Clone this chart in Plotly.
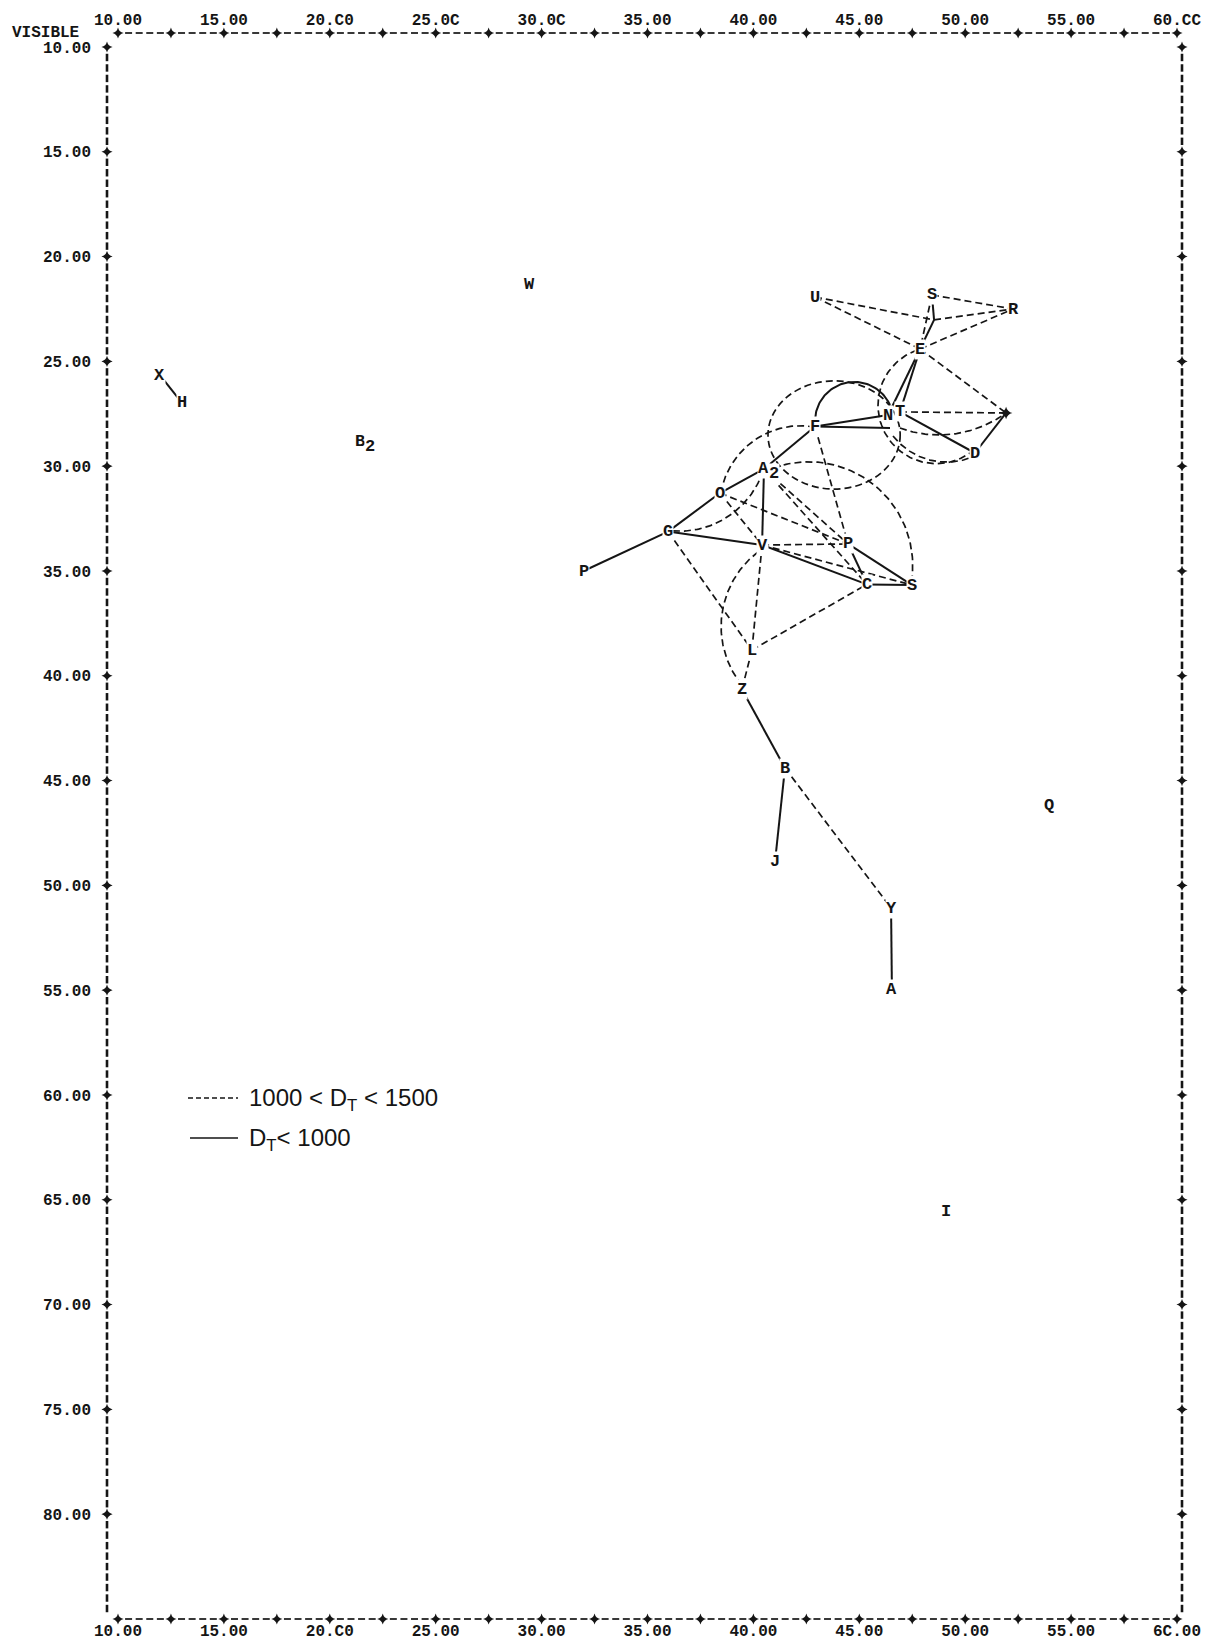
import numpy as np
import plotly.graph_objects as go

# ---------------- axis tick labels (as printed) ----------------
x_tick_vals = [10, 15, 20, 25, 30, 35, 40, 45, 50, 55, 60]
x_top_text = ["10.00", "15.00", "20.C0", "25.0C", "30.0C", "35.00", "40.00",
              "45.00", "50.00", "55.00", "60.CC"]
x_bot_text = ["10.00", "15.00", "20.C0", "25.00", "30.00", "35.00", "40.00",
              "45.00", "50.00", "55.00", "6C.00"]
y_tick_vals = [10, 15, 20, 25, 30, 35, 40, 45, 50, 55, 60, 65, 70, 75, 80]
y_tick_text = ["10.00", "15.00", "20.00", "25.00", "30.00", "35.00", "40.00",
               "45.00", "50.00", "55.00", "60.00", "65.00", "70.00", "75.00",
               "80.00"]

# ---------------- stations ----------------
node_id = ["U", "S1", "R", "J1", "E", "N", "T", "K", "PL", "D", "F", "A2", "O",
           "G", "V", "P2", "C", "S2", "L", "Z", "B", "J", "Y", "A", "P1", "W",
           "X", "H", "B2", "Q", "I"]
node_label = ["U", "S", "R", "", "E", "N", "T", "", "", "D", "F", "A",
              "O", "G", "V", "P", "C", "S", "L", "Z", "B", "J", "Y", "A", "P", "W",
              "X", "H", "B", "Q", "I"]
node_suffix = {"A2": "2", "B2": "2"}
node_x = [42.91, 48.43, 52.26, 48.53, 47.87, 46.36, 46.92, 46.45, 51.93, 50.46,
          42.91, 40.50, 38.42, 35.97, 40.41, 44.47, 45.36, 47.49, 39.93, 39.46,
          41.49, 41.02, 46.50, 46.54, 31.98, 29.45, 11.98, 13.01, 21.43, 53.94,
          49.09]
node_y = [21.93, 21.83, 22.50, 23.02, 24.41, 27.56, 27.41, 28.18, 27.46, 29.37,
          28.11, 30.13, 31.28, 33.12, 33.76, 33.71, 35.64, 35.67, 38.77, 40.65,
          44.40, 48.88, 51.08, 54.99, 35.00, 21.31, 25.65, 26.97, 28.83, 46.20,
          65.58]

# ---------------- links ----------------
solid_edges = [("E", "N"), ("E", "T"), ("F", "N"), ("F", "K"), ("T", "D"),
               ("D", "PL"), ("S1", "J1"), ("J1", "E"), ("A2", "F"), ("A2", "O"),
               ("O", "G"), ("G", "P1"), ("A2", "V"), ("G", "V"), ("V", "C"),
               ("P2", "S2"), ("P2", "C"), ("C", "S2"), ("Z", "B"), ("B", "J"),
               ("Y", "A"), ("X", "H")]
dashed_edges = [("U", "E"), ("U", "J1"), ("J1", "R"), ("S1", "R"), ("E", "R"),
                ("S1", "E"), ("E", "PL"), ("T", "PL"), ("F", "P2"), ("V", "P2"),
                ("V", "S2"), ("A2", "P2"), ("A2", "C"), ("O", "P2"), ("O", "V"),
                ("G", "L"), ("V", "L"), ("L", "Z"), ("L", "C"), ("B", "Y")]

# ---------------- arcs (start, via, end) ----------------
arc_sx = [40.93, 40.22, 36.20, 47.72, 46.59, 46.92, 42.91, 42.91]
arc_sy = [30.09, 34.09, 33.09, 24.46, 28.56, 28.18, 27.80, 28.13]
arc_vx = [45.98, 38.50, 39.37, 45.88, 48.81, 48.81, 44.70, 39.60]
arc_vy = [31.14, 37.18, 31.95, 27.08, 29.79, 28.51, 25.98, 29.13]
arc_ex = [47.49, 39.37, 40.41, 50.23, 50.37, 51.79, 46.45, 38.52]
arc_ey = [35.33, 40.34, 30.37, 29.37, 29.55, 27.56, 27.08, 30.99]
arc_solid = [False, False, False, False, False, False, True, False]

# closed circle (slightly oval on the print)
ell_cx = [43.81]
ell_cy = [28.51]
ell_rx = [3.12]
ell_ry = [2.58]

# ---------------- page geometry ----------------
W, H = 1209, 1643
PL_, PR_, PT_, PB_ = 107, 1183, 33, 1619
X_PX10, X_PPU = 118.0, 21.18     # pixel of x=10, pixels per unit
Y_PX10, Y_PPU = 47.0, 20.96


def px2x(px):
    return 10 + (px - X_PX10) / X_PPU


def py2y(py):
    return 10 + (py - Y_PX10) / Y_PPU


def pxx(px):
    return (px - PL_) / (PR_ - PL_)


def pxy(py):
    return (PB_ - py) / (PB_ - PT_)


x_range = [px2x(PL_), px2x(PR_)]
y_range = [py2y(PB_), py2y(PT_)]

pos = {n: (x, y) for n, x, y in zip(node_id, node_x, node_y)}

INK = "#151515"
DASH = "7px,4px"


def edge_xy(edges):
    xs, ys = [], []
    for a, b in edges:
        xs += [pos[a][0], pos[b][0], None]
        ys += [pos[a][1], pos[b][1], None]
    return xs, ys


def arc_pts(p1, p2, p3, n=80):
    # circle through three points, in screen-proportional space
    s = np.array([X_PPU, Y_PPU])
    a, b, c = (np.array(p) * s for p in (p1, p2, p3))
    d = 2 * (a[0] * (b[1] - c[1]) + b[0] * (c[1] - a[1]) + c[0] * (a[1] - b[1]))
    ux = ((a @ a) * (b[1] - c[1]) + (b @ b) * (c[1] - a[1]) + (c @ c) * (a[1] - b[1])) / d
    uy = ((a @ a) * (c[0] - b[0]) + (b @ b) * (a[0] - c[0]) + (c @ c) * (b[0] - a[0])) / d
    cen = np.array([ux, uy])
    r = np.linalg.norm(a - cen)
    ang = [np.arctan2(*(p - cen)[::-1]) for p in (a, b, c)]
    r2 = (ang[1] - ang[0]) % (2 * np.pi)
    r3 = (ang[2] - ang[0]) % (2 * np.pi)
    sweep = r3 if r2 < r3 else r3 - 2 * np.pi
    t = ang[0] + np.linspace(0, sweep, n)
    xs = (cen[0] + r * np.cos(t)) / s[0]
    ys = (cen[1] + r * np.sin(t)) / s[1]
    return list(xs), list(ys)


sx, sy = edge_xy(solid_edges)
dx, dy = edge_xy(dashed_edges)
for i in range(len(arc_sx)):
    ax_, ay_ = arc_pts((arc_sx[i], arc_sy[i]), (arc_vx[i], arc_vy[i]),
                       (arc_ex[i], arc_ey[i]))
    if arc_solid[i]:
        sx += ax_ + [None]
        sy += ay_ + [None]
    else:
        dx += ax_ + [None]
        dy += ay_ + [None]

fig = go.Figure()
fig.add_trace(go.Scatter(x=dx, y=dy, mode="lines", hoverinfo="skip",
                         line=dict(color=INK, width=1.7, dash=DASH)))
fig.add_trace(go.Scatter(x=sx, y=sy, mode="lines", hoverinfo="skip",
                         line=dict(color=INK, width=2.0)))

# unlabeled '+' station
fig.add_trace(go.Scatter(x=[pos["PL"][0]], y=[pos["PL"][1]], mode="markers",
                         marker=dict(symbol="star-diamond", size=9, color=INK),
                         hoverinfo="skip"))

# ---------------- printed frame ----------------
fx_left, fx_right = px2x(107), px2x(1182)
fy_top, fy_bot = y_range[1], y_range[0]
hx = np.round(np.arange(10, 60.001, 0.5), 2)
hplus = [v for v in hx if abs(v / 2.5 - round(v / 2.5)) < 1e-9]
hdash = [v for v in hx if abs(v / 2.5 - round(v / 2.5)) > 1e-9]
vy = np.round(np.arange(10, 84.6, 0.5), 2)
vplus = [v for v in vy if abs(v / 5 - round(v / 5)) < 1e-9]
vbar = [v for v in vy if abs(v / 5 - round(v / 5)) > 1e-9]

for yy in (fy_top, fy_bot):
    fig.add_trace(go.Scatter(x=hdash, y=[yy] * len(hdash), mode="markers",
                             cliponaxis=False, hoverinfo="skip",
                             marker=dict(symbol="line-ew", size=5,
                                         line=dict(color=INK, width=1.7))))
    fig.add_trace(go.Scatter(x=hplus, y=[yy] * len(hplus), mode="markers",
                             cliponaxis=False, hoverinfo="skip",
                             marker=dict(symbol="star-diamond", size=8, color=INK)))
for xx in (fx_left, fx_right):
    fig.add_trace(go.Scatter(x=[xx] * len(vbar), y=vbar, mode="markers",
                             cliponaxis=False, hoverinfo="skip",
                             marker=dict(symbol="line-ns", size=5.3,
                                         line=dict(color=INK, width=2.6))))
    fig.add_trace(go.Scatter(x=[xx] * len(vplus), y=vplus, mode="markers",
                             cliponaxis=False, hoverinfo="skip",
                             marker=dict(symbol="star-diamond", size=8, color=INK)))
# invisible anchor so the bottom axis is drawn
fig.add_trace(go.Scatter(x=[10, 60], y=[fy_bot, fy_bot], xaxis="x2", mode="markers",
                         marker=dict(opacity=0), hoverinfo="skip"))

# ---------------- station letters ----------------
lab_font = dict(family="Liberation Mono", size=17, color=INK, weight="bold")
ann = []
for n, lab in zip(node_id, node_label):
    if not lab:
        continue
    ann.append(dict(x=pos[n][0], y=pos[n][1], xref="x", yref="y", text=lab,
                    showarrow=False, xanchor="center", yanchor="middle",
                    bgcolor="white", borderpad=0, font=lab_font))
    if n in node_suffix:
        ann.append(dict(x=pos[n][0], y=pos[n][1], xref="x", yref="y",
                        text=node_suffix[n], showarrow=False, xanchor="center",
                        yanchor="middle", xshift=10, yshift=-5,
                        bgcolor="white", borderpad=0, font=lab_font))

ann.append(dict(x=pxx(10), y=pxy(33), xref="paper", yref="paper", text="VISIBLE",
                showarrow=False, xanchor="left", yanchor="middle",
                font=dict(family="Liberation Mono", size=16, color=INK,
                          weight="bold")))

# legend
leg_font = dict(family="Liberation Sans", size=24, color=INK)
ann.append(dict(x=pxx(247), y=pxy(1099), xref="paper", yref="paper",
                text="1000 &lt; D<sub>T</sub> &lt; 1500", showarrow=False,
                xanchor="left", yanchor="middle", font=leg_font))
ann.append(dict(x=pxx(247), y=pxy(1139), xref="paper", yref="paper",
                text="D<sub>T</sub>&lt; 1000", showarrow=False,
                xanchor="left", yanchor="middle", font=leg_font))

shapes = [
    dict(type="line", xref="paper", yref="paper", x0=pxx(188), x1=pxx(238),
         y0=pxy(1098), y1=pxy(1098), line=dict(color=INK, width=1.3, dash="5px,3px")),
    dict(type="line", xref="paper", yref="paper", x0=pxx(190), x1=pxx(238),
         y0=pxy(1138), y1=pxy(1138), line=dict(color=INK, width=1.5)),
]
for i in range(len(ell_cx)):
    shapes.append(dict(type="circle", xref="x", yref="y",
                       x0=ell_cx[i] - ell_rx[i], x1=ell_cx[i] + ell_rx[i],
                       y0=ell_cy[i] - ell_ry[i], y1=ell_cy[i] + ell_ry[i],
                       line=dict(color=INK, width=1.7, dash=DASH), layer="below"))

tick_font = dict(family="Liberation Mono", size=16, color=INK, weight="bold")
axis_common = dict(showgrid=False, zeroline=False, showline=False, ticks="",
                   tickfont=tick_font, tickvals=x_tick_vals, range=x_range)

fig.update_layout(
    width=W, height=H,
    margin=dict(l=PL_, r=W - PR_, t=PT_, b=H - PB_, autoexpand=False),
    plot_bgcolor="white", paper_bgcolor="white", showlegend=False,
    xaxis=dict(side="top", ticktext=x_top_text, ticklabelstandoff=4, **axis_common),
    xaxis2=dict(side="bottom", overlaying="x", anchor="y",
                ticktext=x_bot_text, ticklabelstandoff=0, **axis_common),
    yaxis=dict(range=y_range, tickvals=y_tick_vals, ticktext=y_tick_text,
               showgrid=False, zeroline=False, showline=False, ticks="",
               tickfont=tick_font, ticklabelstandoff=15),
    annotations=ann, shapes=shapes,
)

fig.write_html("out.html",
               config={"displayModeBar": False, "staticPlot": True},
               post_script="document.body.style.margin='0px';"
                           "document.body.style.overflow='hidden';")
